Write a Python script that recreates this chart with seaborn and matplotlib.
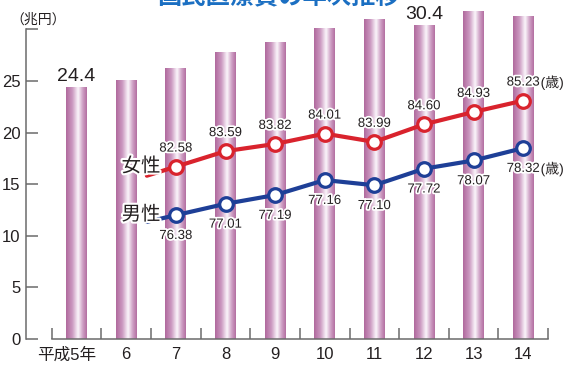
import numpy as np
import pandas as pd
import matplotlib
matplotlib.use("Agg")
import matplotlib.pyplot as plt
import matplotlib.patheffects as pe
import matplotlib.transforms as mtransforms
from matplotlib.colors import LinearSegmentedColormap
import seaborn as sns

# data
years = ["平成5年", "6", "7", "8", "9", "10", "11", "12", "13", "14"]
cost = [24.4, 25.1, 26.3, 27.8, 28.8, 30.1, 31.0, 30.4, 31.8, 31.3]   # 兆円
cost_labels = {0: "24.4", 7: "30.4"}

life_years = ["7", "8", "9", "10", "11", "12", "13", "14"]
female_pos = [16.7, 18.2, 18.9, 19.9, 19.1, 20.8, 22.0, 23.1]   # height of the line in chart units
male_pos = [12.0, 13.1, 13.95, 15.4, 14.9, 16.5, 17.3, 18.5]
female_txt = ["82.58", "83.59", "83.82", "84.01", "83.99", "84.60", "84.93", "85.23"]
male_txt = ["76.38", "77.01", "77.19", "77.16", "77.10", "77.72", "78.07", "78.32"]

sns.set_style("white")
plt.rcParams["font.family"] = ["Liberation Sans", "Noto Sans CJK JP"]

TXT = "#231f20"
GRAY = "#6b6b6b"
RED = "#d9232d"
BLUE = "#1e3f97"

fig = plt.figure(figsize=(5.72, 3.66), dpi=100)
ax = fig.add_axes([26 / 572, 27 / 366, 532 / 572, 339 / 366])

df = pd.DataFrame({"year": years, "cost": cost})
sns.barplot(data=df, x="year", y="cost", width=0.42, color="white",
            edgecolor="none", ax=ax, zorder=1)

# cylinder-like gradient in each bar
cmap = LinearSegmentedColormap.from_list(
    "cyl", [(0.0, "#b0699d"), (0.3, "#cb98c0"), (0.58, "#fbf6fb"),
            (0.8, "#cfa0c5"), (1.0, "#b36ea1")])
grad = np.linspace(0, 1, 200).reshape(1, -1)
for p in list(ax.patches):
    x0, y0 = p.get_x(), p.get_y()
    w, h = p.get_width(), p.get_height()
    im = ax.imshow(grad, cmap=cmap, extent=[x0, x0 + w, y0, y0 + h],
                   aspect="auto", zorder=1, interpolation="bilinear")
    im.set_clip_path(p)

xpos = {y: i for i, y in enumerate(years)}
lx = np.array([xpos[y] for y in life_years], dtype=float)
halo = [pe.withStroke(linewidth=2.5, foreground="white")]

for ys, txts, col, name, dy in [(female_pos, female_txt, RED, "女性", 13),
                                (male_pos, male_txt, BLUE, "男性", -15)]:
    ys = np.array(ys)
    # short lead-in continuing the first segment
    lead = 0.585
    sx = np.r_[lx[0] - lead, lx]
    sy = np.r_[ys[0] - lead * (ys[1] - ys[0]), ys]
    sns.lineplot(x=sx, y=sy, color=col, lw=3, sort=False, ax=ax, zorder=3)
    sns.lineplot(x=lx, y=ys, color=col, lw=0, marker="o", markersize=9.8,
                 markerfacecolor="white", markeredgecolor=col,
                 markeredgewidth=2.3, sort=False, ax=ax, zorder=4)
    for x, y, t in zip(lx, ys, txts):
        ax.annotate(t, (x, y), xytext=(0, dy), textcoords="offset points",
                    ha="center", va="center", fontsize=9.5, color=TXT, zorder=5,
                    path_effects=halo)
    ax.annotate("(歳)", (lx[-1], ys[-1]), xytext=(12.5, dy), textcoords="offset points",
                ha="left", va="center", fontsize=10, color=TXT, zorder=5,
                path_effects=halo)
    ax.annotate(name, (lx[0], ys[0]), xytext=(-11, 0), textcoords="offset points",
                ha="right", va="center", fontsize=14, color=TXT, zorder=5,
                path_effects=[pe.withStroke(linewidth=3, foreground="white")])

for i, t in cost_labels.items():
    ax.annotate(t, (i, cost[i]), xytext=(0, 8), textcoords="offset points",
                ha="center", va="center", fontsize=14, color=TXT)

ax.set_xlim(-1.02, 9.7)
ax.set_ylim(0, 32.85)
ax.set_xlabel("")
ax.set_ylabel("")

ax.set_yticks(np.arange(0, 31, 5))
ax.set_yticklabels([str(v) for v in range(0, 30, 5)] + [""])
ax.tick_params(axis="y", direction="in", length=8.6, width=1.1, color=GRAY,
               labelsize=12, labelcolor=TXT, pad=4, left=True)

ax.set_xticks(range(len(years)))
ax.set_xticklabels(years)
ax.set_xticks(np.arange(-0.5, len(years), 1), minor=True)
ax.tick_params(axis="x", which="major", length=0, labelsize=12, labelcolor=TXT, pad=6)
ax.tick_params(axis="x", which="minor", direction="in", length=8, width=1.1,
               color=GRAY, bottom=True)
lbl = ax.get_xticklabels()[0]
lbl.set_transform(lbl.get_transform() + mtransforms.ScaledTranslation(-10 / 100, 0, fig.dpi_scale_trans))

for s in ["top", "right"]:
    ax.spines[s].set_visible(False)
ax.spines["left"].set_bounds(0, 30)
ax.spines["bottom"].set_bounds(-0.5, 9.5)
for s in ["left", "bottom"]:
    ax.spines[s].set_color(GRAY)
    ax.spines[s].set_linewidth(1.1)

fig.text(10 / 572, 1 - 19.5 / 366, "（兆円）", fontsize=10, color=TXT, va="center", ha="left")
fig.text(278 / 572, 0.99, "国民医療費の年次推移", fontsize=17.5, color="#1b6fc2",
         ha="center", va="baseline", fontweight="bold")

fig.savefig("out.png", dpi=100)
